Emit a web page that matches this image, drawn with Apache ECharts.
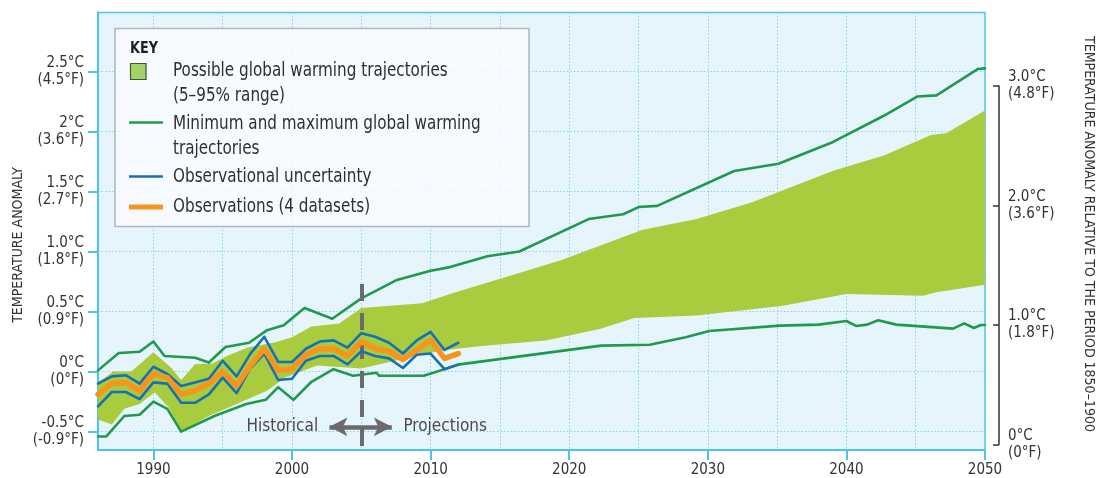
<!DOCTYPE html>
<html>
<head>
<meta charset="utf-8">
<script src="https://cdn.jsdelivr.net/npm/echarts@6/dist/echarts.min.js"></script>
<style>
  html, body { margin: 0; padding: 0; background: #ffffff; }
  #chart { width: 1105px; height: 478px; }
</style>
</head>
<body>
<div id="chart"></div>
<script>
const FONT = "'DejaVu Sans Condensed', 'Liberation Sans Narrow', 'Arial Narrow', sans-serif";

// Axis ticks and labels
const xTickYears = [1990, 2000, 2010, 2020, 2030, 2040, 2050];
const xGridYears = [1990, 1995, 2000, 2005, 2010, 2015, 2020, 2025, 2030, 2035, 2040, 2045];
const leftTickValues = [-0.5, 0, 0.5, 1, 1.5, 2, 2.5];
const leftTickLabels = ['-0.5°C\n(-0.9°F)', '0°C\n(0°F)', '0.5°C\n(0.9°F)', '1.0°C\n(1.8°F)',
                        '1.5°C\n(2.7°F)', '2°C\n(3.6°F)', '2.5°C\n(4.5°F)'];
const rightTickValues = [0, 1, 2, 3];
const rightTickLabels = ['0°C\n(0°F)', '1.0°C\n(1.8°F)', '2.0°C\n(3.6°F)', '3.0°C\n(4.8°F)'];

// Observed record, 1986–2012 (°C anomaly)
const obsYears = [1986, 1987, 1988, 1989, 1990, 1991, 1992, 1993, 1994, 1995, 1996, 1997, 1998, 1999,
                  2000, 2001, 2002, 2003, 2004, 2005, 2006, 2007, 2008, 2009, 2010, 2011, 2012];
const observations = [-0.19, -0.10, -0.09, -0.16, -0.02, -0.05, -0.19, -0.16, -0.10, 0.00, -0.12, 0.05, 0.19, 0.01,
                      0.02, 0.14, 0.19, 0.19, 0.13, 0.25, 0.19, 0.17, 0.10, 0.18, 0.26, 0.11, 0.15];
const obsUpper = [-0.10, -0.04, -0.03, -0.10, 0.04, -0.02, -0.12, -0.09, -0.06, 0.09, -0.04, 0.15, 0.29, 0.08,
                  0.08, 0.19, 0.25, 0.26, 0.20, 0.32, 0.29, 0.24, 0.15, 0.26, 0.33, 0.18, 0.24];
const obsLower = [-0.29, -0.17, -0.17, -0.23, -0.09, -0.10, -0.26, -0.26, -0.19, -0.05, -0.18, 0.03, 0.15, -0.07,
                  -0.06, 0.09, 0.13, 0.13, 0.06, 0.17, 0.13, 0.11, 0.03, 0.14, 0.15, 0.02, 0.06];

// Maximum and minimum warming trajectories [year, °C]
const maxTrajectory = [[1986, 0.01], [1987.5, 0.155], [1989, 0.165], [1990, 0.25], [1990.8, 0.13], [1993, 0.115],
  [1994, 0.075], [1995.2, 0.205], [1996.9, 0.24], [1998.2, 0.345], [1999.4, 0.385], [2000.9, 0.53], [2002.9, 0.44],
  [2005, 0.61], [2007.5, 0.76], [2010, 0.84], [2011.4, 0.87], [2014.1, 0.96], [2016.4, 1.0], [2021.4, 1.27],
  [2023.9, 1.31], [2025.0, 1.37], [2026.35, 1.38], [2031.9, 1.67], [2035.1, 1.73], [2039, 1.91], [2042.7, 2.13],
  [2045.1, 2.29], [2046.5, 2.30], [2049.5, 2.52], [2050, 2.525]];
const minTrajectory = [[1986, -0.54], [1986.6, -0.54], [1987.9, -0.37], [1989, -0.36], [1990, -0.25], [1991, -0.31],
  [1992, -0.50], [1994.4, -0.37], [1996.7, -0.27], [1998.1, -0.235], [1999, -0.13], [2000.1, -0.235], [2001.4, -0.085],
  [2003, 0.02], [2004.4, -0.035], [2006.1, -0.01], [2006.3, -0.035], [2009.5, -0.035], [2012.1, 0.06],
  [2022.3, 0.216], [2025.8, 0.224], [2028.4, 0.286], [2030.1, 0.338], [2035.2, 0.383], [2038, 0.391], [2040, 0.421],
  [2040.7, 0.38], [2041.5, 0.391], [2042.3, 0.427], [2043.6, 0.391], [2047.7, 0.358], [2048.5, 0.402],
  [2049.2, 0.363], [2049.7, 0.388], [2050, 0.388]];

// 5–95% range of possible trajectories [year, °C]
const rangeUpper = [[1986, -0.09], [1987.1, 0.0], [1988.4, 0.0], [1990, 0.16], [1991.3, 0.03], [1992, -0.07],
  [1993, 0.06], [1994.2, 0.065], [1995.3, 0.13], [1996.8, 0.2], [1998.8, 0.245], [2000, 0.285], [2001.4, 0.375],
  [2003.4, 0.40], [2005, 0.53], [2009.4, 0.57], [2011.4, 0.646], [2019.4, 0.928], [2025.3, 1.18], [2029.2, 1.27],
  [2033.2, 1.41], [2039, 1.67], [2042.7, 1.80], [2046.1, 1.97], [2047.2, 1.985], [2050, 2.175]];
const rangeLower = [[1986, -0.40], [1987, -0.44], [1987.9, -0.31], [1989, -0.27], [1990.1, -0.175], [1991.1, -0.30],
  [1992, -0.50], [1994, -0.37], [1996, -0.27], [1998.2, -0.16], [1999.5, -0.05], [2001.8, 0.05], [2005, 0.025],
  [2009.7, 0.15], [2011.4, 0.183], [2013.9, 0.216], [2018.3, 0.258], [2022.2, 0.355], [2024.7, 0.446],
  [2029.2, 0.466], [2035.4, 0.549], [2040, 0.646], [2045.5, 0.632], [2046.5, 0.66], [2050, 0.723]];

// Historical / projections divider and captions
const dividerYear = 2005;
const dividerTop = 0.73;
const arrowSpan = [2002.7, 2007.2];
const captionLevel = -0.46;
const captions = [{ text: 'Historical', year: 1999.3 }, { text: 'Projections', year: 2011.05 }];

const X_MIN = 1986, X_MAX = 2050, Y_MIN = -0.653, Y_MAX = 2.99;

const C = {
  band: '#a9cb3e',
  green: '#1f9a4d',
  blue: '#1570b8',
  orange: '#f7941d',
  axis: '#4ec3ef',
  grid: '#86d2f0',
  plotBg: '#e6f5fc',
  text: '#333333',
  divider: '#6a6a6a'
};

const pair = (ys, vs) => ys.map((y, i) => [y, vs[i]]);
const leftLabel = v => leftTickLabels[leftTickValues.indexOf(v)] ?? '';
const rightLabel = v => rightTickLabels[rightTickValues.indexOf(v)] ?? '';

const chart = echarts.init(document.getElementById('chart'), null, { renderer: 'canvas' });

const lineSeries = (name, data, color, width, z) => ({
  name, type: 'line', data, showSymbol: false, symbol: 'none', smooth: false,
  lineStyle: { color, width, join: 'round', cap: 'round' }, itemStyle: { color },
  z, silent: true, animation: false
});

// key entries are set a little condensed
const legendText = (x, y, text, extra) => ({
  type: 'text', x, y, z: 101, silent: true, scaleX: 0.89,
  style: Object.assign({ text, fontFamily: FONT, fontSize: 19, fill: '#2f2f2f', verticalAlign: 'middle', align: 'left' }, extra || {})
});

const option = {
  animation: false,
  backgroundColor: '#ffffff',
  textStyle: { fontFamily: FONT },
  grid: [
    { left: 98, right: 120, top: 12.5, bottom: 28, show: true, backgroundColor: C.plotBg,
      borderColor: C.axis, borderWidth: 1.5, containLabel: false, outerBoundsMode: 'none' },
    { left: 999, width: 1, top: 86, bottom: 33.5, show: false, containLabel: false, outerBoundsMode: 'none' }
  ],
  xAxis: [
    { type: 'value', gridIndex: 0, min: X_MIN, max: X_MAX, position: 'bottom',
      axisLine: { show: true, onZero: false, lineStyle: { color: C.axis, width: 2 } },
      axisTick: { show: true, customValues: xTickYears, length: 10, lineStyle: { color: C.axis, width: 2 } },
      axisLabel: { show: true, customValues: xTickYears, margin: 13, fontSize: 15, color: C.text, fontFamily: FONT,
                   formatter: v => String(v) },
      splitLine: { show: false } },
    // dotted five-year grid
    { type: 'value', gridIndex: 0, min: X_MIN, max: X_MAX, position: 'top',
      axisLine: { show: false }, axisLabel: { show: false },
      axisTick: { show: false, customValues: xGridYears },
      splitLine: { show: true, lineStyle: { color: C.grid, width: 1, type: [1.5, 2] } } },
    { type: 'value', gridIndex: 1, min: 0, max: 1, show: false }
  ],
  yAxis: [
    { type: 'value', gridIndex: 0, min: Y_MIN, max: Y_MAX, position: 'left',
      axisLine: { show: true, onZero: false, lineStyle: { color: C.axis, width: 2 } },
      axisTick: { show: true, customValues: leftTickValues, length: 10, lineStyle: { color: C.axis, width: 2 } },
      axisLabel: { show: true, customValues: leftTickValues, margin: 14, fontSize: 15, lineHeight: 17,
                   color: C.text, fontFamily: FONT, align: 'right', formatter: leftLabel },
      splitLine: { show: true, lineStyle: { color: C.grid, width: 1, type: [1.5, 2] } } },
    // scale relative to 1850–1900
    { type: 'value', gridIndex: 1, min: 0, max: 3, interval: 1, position: 'right',
      axisLine: { show: true, lineStyle: { color: '#333333', width: 1.5 } },
      axisTick: { show: true, inside: true, length: 6, lineStyle: { color: '#333333', width: 1.5 } },
      axisLabel: { show: true, margin: 8, fontSize: 15, lineHeight: 17, color: C.text, fontFamily: FONT,
                   align: 'left', formatter: rightLabel },
      splitLine: { show: false } }
  ],
  series: [
    {
      name: 'Possible global warming trajectories (5–95% range)',
      type: 'custom', coordinateSystem: 'cartesian2d', xAxisIndex: 0, yAxisIndex: 0,
      data: [rangeUpper[0]], silent: true, z: 2, clip: true,
      renderItem: (params, api) => {
        if (params.dataIndex !== 0) return null;
        const pts = rangeUpper.map(p => api.coord(p))
          .concat(rangeLower.slice().reverse().map(p => api.coord(p)));
        return { type: 'polygon', shape: { points: pts }, style: { fill: C.band, stroke: null } };
      }
    },
    lineSeries('Maximum global warming trajectory', maxTrajectory, C.green, 2.6, 4),
    lineSeries('Minimum global warming trajectory', minTrajectory, C.green, 2.6, 4),
    lineSeries('Observational uncertainty (upper)', pair(obsYears, obsUpper), C.blue, 2.6, 5),
    lineSeries('Observational uncertainty (lower)', pair(obsYears, obsLower), C.blue, 2.6, 5),
    lineSeries('Observations (4 datasets)', pair(obsYears, observations), C.orange, 5.5, 6),
    {
      name: 'divider', type: 'line', data: [], z: 7, silent: true, animation: false,
      markLine: {
        silent: true, animation: false, symbol: ['none', 'none'], label: { show: false },
        lineStyle: { color: C.divider, width: 4, type: [17, 12] },
        data: [
          [{ coord: [dividerYear, dividerTop] }, { coord: [dividerYear, Y_MIN] }],
          [{ coord: [arrowSpan[0], captionLevel], symbol: 'arrow', symbolSize: [14, 18],
             lineStyle: { type: 'solid', width: 4.5, color: C.divider } },
           { coord: [arrowSpan[1], captionLevel], symbol: 'arrow', symbolSize: [14, 18] }]
        ]
      },
      markPoint: {
        silent: true, animation: false, symbol: 'rect', symbolSize: 1,
        itemStyle: { color: 'rgba(0,0,0,0)' },
        label: { show: true, position: 'inside', fontSize: 17, color: '#4a4a4a', fontFamily: FONT,
                 formatter: p => p.name },
        data: captions.map(c => ({ name: c.text, coord: [c.year, captionLevel] }))
      }
    }
  ],
  graphic: [
    { type: 'text', x: 18, y: 245, rotation: Math.PI / 2, z: 100, silent: true,
      style: { text: 'TEMPERATURE ANOMALY', fontFamily: FONT, fontSize: 14, fill: C.text,
               align: 'center', verticalAlign: 'middle' } },
    { type: 'text', x: 1089, y: 234, rotation: -Math.PI / 2, z: 100, silent: true,
      style: { text: 'TEMPERATURE ANOMALY RELATIVE TO THE PERIOD 1850–1900', fontFamily: FONT, fontSize: 14,
               fill: C.text, align: 'center', verticalAlign: 'middle' } },
    // key
    { type: 'rect', z: 100, silent: true, shape: { x: 115, y: 28.5, width: 414, height: 198 },
      style: { fill: 'rgba(250,253,255,0.82)', stroke: '#b3b8bc', lineWidth: 1.6 } },
    legendText(130, 48.5, 'KEY', { fontWeight: 'bold', fontSize: 16, fill: '#1f1f1f' }),
    { type: 'rect', z: 101, silent: true, shape: { x: 130.5, y: 63.5, width: 15.5, height: 16 },
      style: { fill: '#a3d16a', stroke: '#3d5a2b', lineWidth: 1.2 } },
    legendText(173, 71, 'Possible global warming trajectories'),
    legendText(173, 96, '(5–95% range)'),
    { type: 'line', z: 101, silent: true, shape: { x1: 129, y1: 122.5, x2: 163, y2: 122.5 },
      style: { stroke: C.green, lineWidth: 2.6 } },
    legendText(173, 124, 'Minimum and maximum global warming'),
    legendText(173, 149, 'trajectories'),
    { type: 'line', z: 101, silent: true, shape: { x1: 129, y1: 176.5, x2: 163, y2: 176.5 },
      style: { stroke: C.blue, lineWidth: 2.6 } },
    legendText(173, 177, 'Observational uncertainty'),
    { type: 'line', z: 101, silent: true, shape: { x1: 129, y1: 207, x2: 163, y2: 207 },
      style: { stroke: C.orange, lineWidth: 5 } },
    legendText(173, 207, 'Observations (4 datasets)')
  ]
};

chart.setOption(option);
</script>
</body>
</html>
